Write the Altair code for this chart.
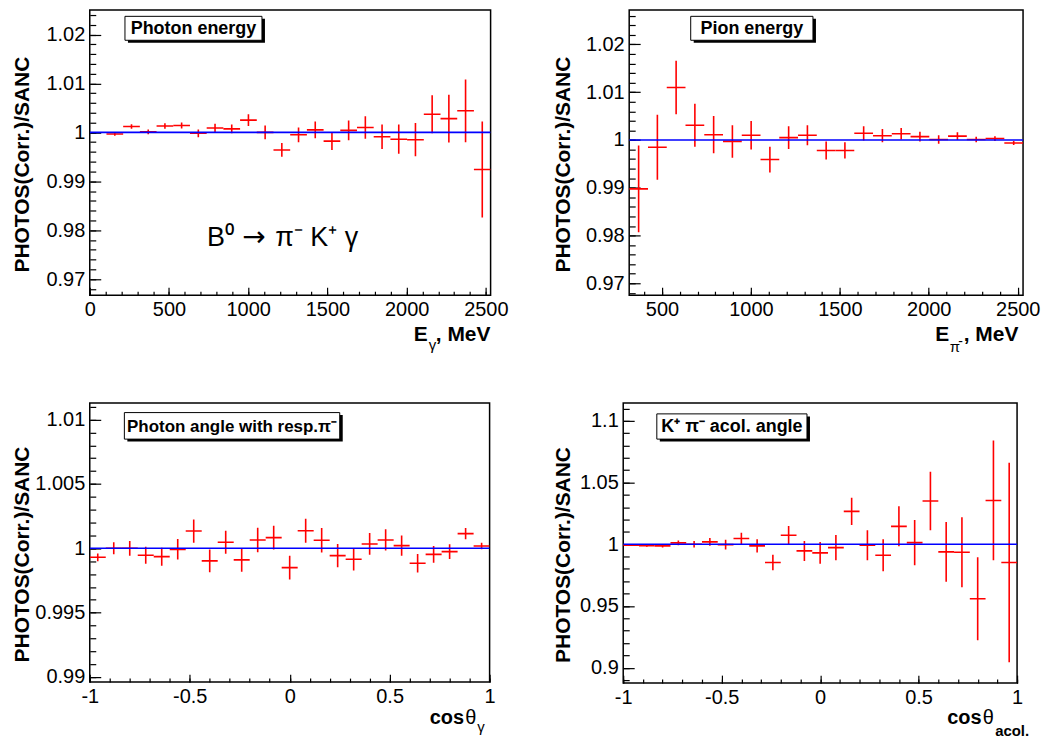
import altair as alt
import pandas as pd

FONT = "Liberation Sans"
RED = "#ff0000"
BLUE = "#0000ff"

# ---------------- data ----------------
# Panel 1: photon energy, bin centres (MeV), ratio, error
eg_x = [158.1, 263.5, 369.0, 474.4, 579.8, 685.2, 790.7, 896.1, 1001.5, 1106.9,
        1212.3, 1317.8, 1423.2, 1528.6, 1634.0, 1739.4, 1844.9, 1950.3, 2055.7,
        2161.1, 2266.6, 2372.0, 2477.4]
eg_y = [0.99966, 1.0012, 1.0001, 1.0013, 1.0014, 0.9998, 1.0009, 1.0007, 1.0025,
        1.0000, 0.9964, 0.9995, 1.0005, 0.9982, 1.0004, 1.0010, 0.9991, 0.9986,
        0.9985, 1.0037, 1.0028, 1.0044, 0.9924]
eg_err = [0.00034, 0.00048, 0.00048, 0.00054, 0.0006, 0.0008, 0.00088, 0.00088,
          0.0012, 0.0014, 0.0014, 0.0015, 0.0017, 0.0018, 0.0020, 0.0023, 0.0025,
          0.0030, 0.0034, 0.0039, 0.0049, 0.0064, 0.0098]
e_halfbin = 52.7

# Panel 2: pion energy
ep_x = [369.0, 474.4, 579.8, 685.2, 790.7, 896.1, 1001.5, 1106.9, 1212.3, 1317.8,
        1423.2, 1528.6, 1634.0, 1739.4, 1844.9, 1950.3, 2055.7, 2161.1, 2266.6,
        2372.0, 2477.4]
ep_y = [0.98976, 0.99847, 1.0110, 1.0031, 1.0011, 0.9997, 1.0010, 0.9959, 1.0005,
        1.0010, 0.9978, 0.9978, 1.0014, 1.0009, 1.0013, 1.0007, 1.0001, 1.0008,
        1.0001, 1.0003, 0.99937]
ep_err = [0.0091, 0.0068, 0.0056, 0.0045, 0.0039, 0.0034, 0.0030, 0.0027, 0.0024,
          0.0021, 0.0019, 0.0017, 0.0015, 0.0014, 0.0012, 0.0010, 0.0009, 0.0008,
          0.0006, 0.0005, 0.0004]

# Panel 3: photon angle w.r.t. pi-
cg_x = [-0.96, -0.88, -0.80, -0.72, -0.64, -0.56, -0.48, -0.40, -0.32, -0.24,
        -0.16, -0.08, 0.00, 0.08, 0.16, 0.24, 0.32, 0.40, 0.48, 0.56, 0.64, 0.72,
        0.80, 0.88, 0.96]
cg_y = [0.99930, 1.00000, 1.00000, 0.99946, 0.99935, 0.99992, 1.00134, 0.99902,
        1.00047, 0.99910, 1.00065, 1.00083, 0.99850, 1.00137, 1.00062, 0.99943,
        0.99915, 1.00034, 1.00065, 1.00021, 0.99884, 0.99953, 0.99974, 1.00114,
        1.00018]
cg_err = [0.00030, 0.00047, 0.00057, 0.00067, 0.00070, 0.00080, 0.00090, 0.00088,
          0.00090, 0.00093, 0.00095, 0.00093, 0.00093, 0.00093, 0.00095, 0.00090,
          0.00088, 0.00085, 0.00083, 0.00078, 0.00072, 0.00065, 0.00057, 0.00044,
          0.00026]

# Panel 4: K+ pi- acollinearity angle
ca_x = [-0.96, -0.88, -0.80, -0.72, -0.64, -0.56, -0.48, -0.40, -0.32, -0.24,
        -0.16, -0.08, 0.00, 0.08, 0.16, 0.24, 0.32, 0.40, 0.48, 0.56, 0.64, 0.72,
        0.80, 0.88, 0.96]
ca_y = [0.9993, 0.9988, 0.9987, 1.0011, 1.0000, 1.0019, 0.9997, 1.0046, 0.9987,
        0.9852, 1.0073, 0.9946, 0.9930, 0.9973, 1.0266, 0.9992, 0.9911, 1.0145,
        1.0013, 1.0350, 0.9938, 0.9935, 0.9559, 1.0355, 0.9852]
ca_err = [0.0005, 0.0008, 0.0013, 0.0019, 0.0027, 0.0032, 0.0040, 0.0048, 0.0054,
          0.0062, 0.0075, 0.0081, 0.0089, 0.0102, 0.0110, 0.0121, 0.0129, 0.0162,
          0.0183, 0.0237, 0.0242, 0.0283, 0.0336, 0.0485, 0.0808]
c_halfbin = 0.04

# ---------------- ticks ----------------
x1_major = [0, 500, 1000, 1500, 2000, 2500]
x1_minor = list(range(0, 2501, 100))
x2_major = [500, 1000, 1500, 2000, 2500]
x2_minor = list(range(400, 2501, 100))
y12_major = [0.97, 0.98, 0.99, 1.0, 1.01, 1.02]
y1_minor = [round(0.968 + 0.002 * i, 3) for i in range(29)]
y2_minor = [round(0.968 + 0.002 * i, 3) for i in range(30)]
c_major = [-1, -0.5, 0, 0.5, 1]
c_minor = [round(-1 + 0.1 * i, 1) for i in range(21)]
y3_major = [0.99, 0.995, 1.0, 1.005, 1.01]
y3_minor = [round(0.990 + 0.001 * i, 3) for i in range(22)]
y4_major = [0.9, 0.95, 1.0, 1.05, 1.1]
y4_minor = [round(0.89 + 0.01 * i, 2) for i in range(23)]

YTITLE = "PHOTOS(Corr.)/SANC"


def one(**kw):
    return alt.Chart(pd.DataFrame({"t": [kw.get("t", "")]}))


def txt(s, x, y, size, bold=False, align="left", baseline="alphabetic", angle=None, font=FONT):
    props = dict(font=font, fontSize=size, align=align, baseline=baseline, color="black")
    if bold:
        props["fontWeight"] = "bold"
    if angle is not None:
        props["angle"] = angle
    return one(t=s).mark_text(**props).encode(
        x=alt.value(x), y=alt.value(y), text="t:N")


def box(x1, y1, x2, y2, s, size):
    shadow = one().mark_rect(color="black").encode(
        x=alt.value(x1 + 3), x2=alt.value(x2 + 3), y=alt.value(y1 + 2.5), y2=alt.value(y2 + 2.5))
    frame = one().mark_rect(fill="white", stroke="black", strokeWidth=1).encode(
        x=alt.value(x1), x2=alt.value(x2), y=alt.value(y1), y2=alt.value(y2))
    label = txt(s, (x1 + x2) / 2, (y1 + y2) / 2 + 1, size, bold=True,
                align="center", baseline="middle")
    return [shadow, frame, label]


def panel(xs, ys, errs, half, xdom, ydom, xmaj, xmin_, ymaj, ymin_, xfmt, yfmt,
          w, h, extras):
    df = pd.DataFrame({
        "x": xs, "y": ys,
        "lo": [a - b for a, b in zip(ys, errs)],
        "hi": [a + b for a, b in zip(ys, errs)],
        "xlo": [a - half for a in xs],
        "xhi": [a + half for a in xs],
    })
    fit = pd.DataFrame({"x0": [xdom[0]], "x1": [xdom[1]], "y": [1.0]})
    xsc = alt.Scale(domain=xdom, nice=False, zero=False)
    ysc = alt.Scale(domain=ydom, nice=False, zero=False)
    lab = dict(labelFont=FONT, labelFontSize=20, labelColor="black", labelFlush=False,
               labelOverlap=False, domain=False, grid=False, ticks=False, tickSize=0)
    tk = dict(labels=False, domain=False, grid=False, ticks=True, tickColor="black",
              tickWidth=1.2)
    ax_x_main = alt.Axis(orient="bottom", values=xmaj, labelExpr=xfmt, labelPadding=4, **lab)
    ax_y_main = alt.Axis(orient="left", values=ymaj, labelExpr=yfmt, labelPadding=5, **lab)
    ax_x_maj = alt.Axis(orient="bottom", values=xmaj, tickSize=8, offset=-8, **tk)
    ax_y_maj = alt.Axis(orient="left", values=ymaj, tickSize=11, offset=-11, **tk)
    ax_x_min = alt.Axis(orient="bottom", values=xmin_, tickSize=4, offset=-4, **tk)
    ax_y_min = alt.Axis(orient="left", values=ymin_, tickSize=6, offset=-6, **tk)

    vbars = alt.Chart(df).mark_rule(color=RED, strokeWidth=1.6, clip=True).encode(
        x=alt.X("x:Q", scale=xsc, axis=ax_x_main, title=None),
        y=alt.Y("lo:Q", scale=ysc, axis=ax_y_main, title=None),
        y2="hi:Q")
    hbars = alt.Chart(df).mark_rule(color=RED, strokeWidth=1.6, clip=True).encode(
        x=alt.X("xlo:Q", scale=xsc, axis=ax_x_maj, title=None),
        x2="xhi:Q",
        y=alt.Y("y:Q", scale=ysc, axis=ax_y_maj, title=None))
    line = alt.Chart(fit).mark_rule(color=BLUE, strokeWidth=1.6, clip=True).encode(
        x=alt.X("x0:Q", scale=xsc, axis=ax_x_min, title=None),
        x2="x1:Q",
        y=alt.Y("y:Q", scale=ysc, axis=ax_y_min, title=None))
    layers = [vbars, hbars, line] + extras
    return alt.layer(*layers).resolve_axis(x="independent", y="independent").properties(
        width=w, height=h)


def anchor_left():
    return one().mark_rule(opacity=0).encode(
        x=alt.value(-81), y=alt.value(0), y2=alt.value(1))


def anchor_bottom():
    return one().mark_rule(opacity=0).encode(
        x=alt.value(0), x2=alt.value(1), y=alt.value(360))


FMT_INT = "format(datum.value, 'd')"
FMT_2 = "format(datum.value, '.2~f')"
FMT_3 = "format(datum.value, '.3~f')"
FMT_C = "replace(format(datum.value, '.1~f'), '\u2212', '-')"

# ---- panel 1 ----
W1, H1 = 402, 286
p1_extra = box(35.3, 6.3, 172.7, 30.3, "Photon energy", 18) + [
    txt("B\u2070", 117.7, 236.3, 27),
    txt("\u2192", 153, 236.3, 28, font="DejaVu Sans"),
    txt("\u03c0\u207b K\u207a \u03b3", 186, 236.3, 27),
    txt(YTITLE, -66.5, H1 / 2 + 12, 21, bold=True, align="center", baseline="middle", angle=270),
    txt("E", 325, 331.5, 21, bold=True),
    txt("\u03b3", 340, 340.5, 15),
    txt(", MeV", 347, 331.5, 21, bold=True),
    anchor_left(), anchor_bottom(),
]
p1 = panel(eg_x, eg_y, eg_err, e_halfbin, [0, 2530], [0.9667, 1.0250],
           x1_major, x1_minor, y12_major, y1_minor, FMT_INT, FMT_2, W1, H1, p1_extra)

# ---- panel 2 ----
W2, H2 = 395, 286
p2_extra = box(61.7, 6.3, 184.3, 30.3, "Pion energy", 18) + [
    txt(YTITLE, -65, H2 / 2 + 12, 21, bold=True, align="center", baseline="middle", angle=270),
    txt("E", 307, 331.5, 21, bold=True),
    txt("\u03c0", 321.5, 343, 15),
    txt("-", 330, 337, 14),
    txt(", MeV", 335.5, 331.5, 21, bold=True),
]
p2 = panel(ep_x, ep_y, ep_err, e_halfbin, [316, 2530], [0.9675, 1.0272],
           x2_major, x2_minor, y12_major, y2_minor, FMT_INT, FMT_2, W2, H2, p2_extra)

# ---- panel 3 ----
W3, H3 = 401, 280
p3_extra = box(34.7, 9.7, 250.7, 36.3, "Photon angle with resp.\u03c0\u207b", 17) + [
    txt(YTITLE, -67, H3 / 2 + 12, 21, bold=True, align="center", baseline="middle", angle=270),
    txt("cos", 341, 322, 20, bold=True),
    txt("\u03b8", 376.5, 322, 20),
    txt("\u03b3", 388.5, 330, 15),
    anchor_left(),
]
p3 = panel(cg_x, cg_y, cg_err, c_halfbin, [-1, 1], [0.9896, 1.0113],
           c_major, c_minor, y3_major, y3_minor, FMT_C, FMT_3, W3, H3, p3_extra)

# ---- panel 4 ----
W4, H4 = 395, 281
p4_extra = box(33.7, 11, 184.3, 36.3, "K\u207a \u03c0\u207b acol. angle", 18) + [
    txt(YTITLE, -59, H4 / 2 + 12, 21, bold=True, align="center", baseline="middle", angle=270),
    txt("cos", 325, 322, 20, bold=True),
    txt("\u03b8", 360.5, 322, 20),
    txt("acol.", 373, 333.7, 15, bold=True),
]
p4 = panel(ca_x, ca_y, ca_err, c_halfbin, [-1, 1], [0.8875, 1.1145],
           c_major, c_minor, y4_major, y4_minor, FMT_C, FMT_2, W4, H4, p4_extra)

row1 = alt.hconcat(p1, p2, spacing=139, bounds="flush")
row2 = alt.hconcat(p3, p4, spacing=134, bounds="flush")

chart = alt.vconcat(row1, row2, spacing=32).properties(
    padding={"left": 0, "top": 0, "right": 0, "bottom": 0},
    background="white",
).configure_view(stroke="black", strokeWidth=1.5, fill="white")

chart.save("out.html", embed_options={"renderer": "svg", "actions": False})
